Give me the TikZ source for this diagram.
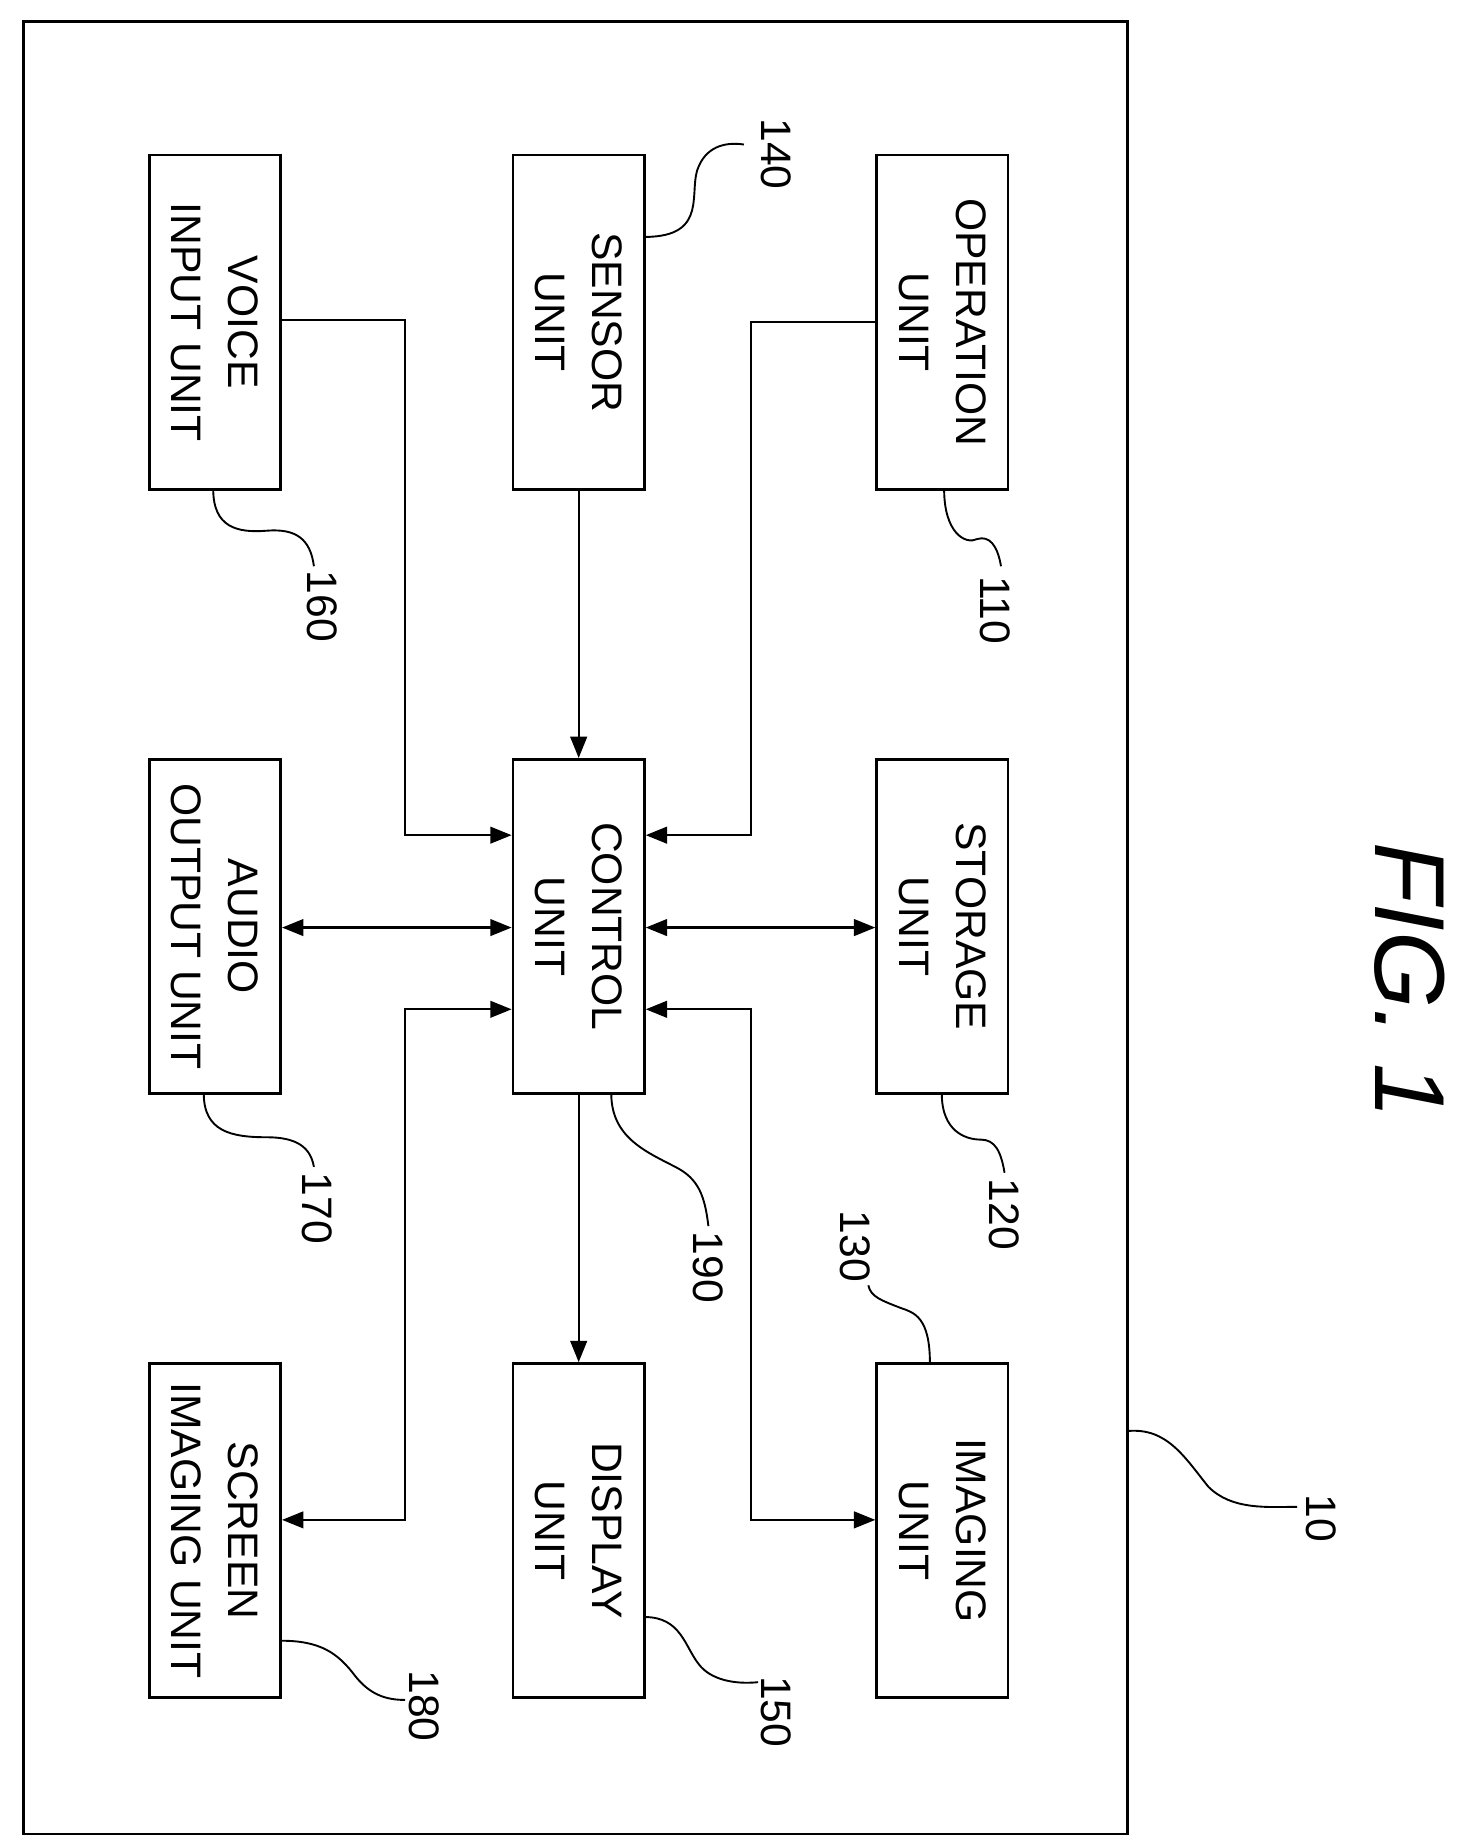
\documentclass[tikz,border=0pt]{standalone}
\usepackage{fontspec}
\setmainfont{Liberation Sans}
\usetikzlibrary{arrows.meta}
\begin{document}
\begin{tikzpicture}[x=0.5pt,y=-0.5pt,
  box/.style={draw,line width=1.1pt,minimum width=55.5pt,minimum height=141pt,inner sep=0pt},
  lbl/.style={rotate=-90,font=\fontsize{18}{24}\selectfont,align=center},
  num/.style={rotate=-90,font=\fontsize{18}{20}\selectfont},
  conn/.style={line width=1pt},
  arr/.style={conn,-{Triangle[length=9pt,width=7pt]}},
  darr/.style={conn,{Triangle[length=9pt,width=7pt]}-{Triangle[length=9pt,width=7pt]}},
  lead/.style={line width=0.8pt}]
\useasboundingbox (0,0) rectangle (1240,1560);
\draw[line width=1.1pt] (20,18) rectangle (952,1548);
\node[box] (voice) at (181.5,272) {};
\node[lbl] at (voice) {VOICE\\INPUT UNIT};
\node[box] (sensor) at (488.5,272) {};
\node[lbl] at (sensor) {SENSOR\\UNIT};
\node[box] (oper) at (795.5,272) {};
\node[lbl] at (oper) {OPERATION\\UNIT};
\node[box] (audio) at (181.5,782) {};
\node[lbl] at (audio) {AUDIO\\OUTPUT UNIT};
\node[box] (ctrl) at (488.5,782) {};
\node[lbl] at (ctrl) {CONTROL\\UNIT};
\node[box] (stor) at (795.5,782) {};
\node[lbl] at (stor) {STORAGE\\UNIT};
\node[box] (screen) at (181.5,1292) {};
\node[lbl] at (screen) {SCREEN\\IMAGING UNIT};
\node[box] (disp) at (488.5,1292) {};
\node[lbl] at (disp) {DISPLAY\\UNIT};
\node[box] (img) at (795.5,1292) {};
\node[lbl] at (img) {IMAGING\\UNIT};
% connectors
\draw[arr] (voice.east |- 0,270) -- (342,270) -- (342,705) -- (ctrl.west |- 0,705);
\draw[arr] (sensor.south) -- (ctrl.north);
\draw[arr] (oper.west |- 0,272) -- (634,272) -- (634,705) -- (ctrl.east |- 0,705);
\draw[darr] (audio.east |- 0,783) -- (ctrl.west |- 0,783);
\draw[darr] (stor.west |- 0,783) -- (ctrl.east |- 0,783);
\draw[darr] (ctrl.west |- 0,852) -- (342,852) -- (342,1283) -- (screen.east |- 0,1283);
\draw[darr] (ctrl.east |- 0,852) -- (634,852) -- (634,1283) -- (img.west |- 0,1283);
\draw[arr] (ctrl.south) -- (disp.north);
% leaders and numbers
\node[num] at (655,130) {140};
\draw[lead] (544,200) .. controls (600,200) and (580,160) .. (590,140) .. controls (598,122) and (615,120) .. (628,122);
\node[num] at (840,515) {110};
\draw[lead] (797,413) .. controls (797,450) and (815,460) .. (825,455) .. controls (835,452) and (842,460) .. (845,478);
\node[num] at (272,512) {160};
\draw[lead] (180,413) .. controls (180,445) and (200,450) .. (225,448) .. controls (250,446) and (262,455) .. (265,478);
\node[num] at (848,1025) {120};
\draw[lead] (795,923) .. controls (795,955) and (815,962) .. (828,962) .. controls (840,962) and (845,972) .. (848,990);
\node[num] at (268,1020) {170};
\draw[lead] (172,923) .. controls (172,955) and (195,960) .. (225,960) .. controls (250,960) and (262,968) .. (265,985);
\node[num] at (598,1070) {190};
\draw[lead] (516,923) .. controls (516,960) and (545,972) .. (570,985) .. controls (590,995) and (595,1010) .. (598,1035);
\node[num] at (722,1052) {130};
\draw[lead] (785,1151) .. controls (785,1112) and (772,1108) .. (760,1104) .. controls (745,1098) and (735,1095) .. (733,1085);
\node[num] at (1115,1282) {10};
\draw[lead] (952,1208) .. controls (985,1205) and (1000,1230) .. (1020,1255) .. controls (1040,1275) and (1070,1272) .. (1095,1272);
\node[num] at (655,1445) {150};
\draw[lead] (544,1365) .. controls (575,1365) and (578,1390) .. (590,1405) .. controls (600,1418) and (620,1422) .. (640,1420);
\node[num] at (358,1440) {180};
\draw[lead] (237,1385) .. controls (270,1385) and (285,1395) .. (300,1415) .. controls (312,1430) and (325,1435) .. (342,1435);
\node[rotate=-90,font=\fontsize{42}{44}\selectfont\itshape] at (1190,828) {FIG. 1};
\end{tikzpicture}
\end{document}
